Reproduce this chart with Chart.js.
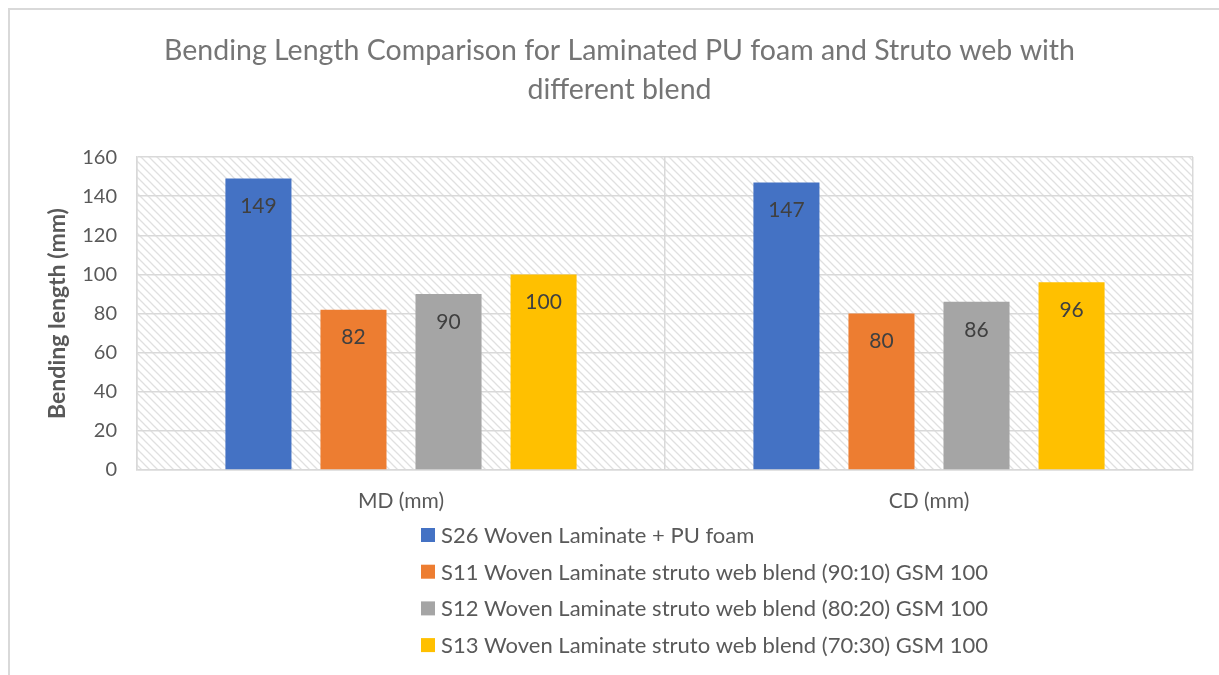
<!DOCTYPE html>
<html>
<head>
<meta charset="utf-8">
<title>Bending Length Comparison</title>
<script src="https://cdn.jsdelivr.net/npm/chart.js@4/dist/chart.umd.min.js"></script>
<style>
  html, body { margin: 0; padding: 0; background: #fff; }
  #wrap { position: relative; width: 1219px; height: 675px; }
</style>
</head>
<body>
<div id="wrap"><canvas id="bendChart" width="1219" height="675"></canvas></div>
<script>
  'use strict';

  const categories = ['MD (mm)', 'CD (mm)'];
  const seriesNames = [
    'S26 Woven Laminate + PU foam',
    'S11 Woven Laminate struto web blend (90:10) GSM 100',
    'S12 Woven Laminate struto web blend (80:20) GSM 100',
    'S13 Woven Laminate struto web blend (70:30) GSM 100'
  ];
  const s26 = [149, 147];
  const s11 = [82, 80];
  const s12 = [90, 86];
  const s13 = [100, 96];
  const yTicks = [0, 20, 40, 60, 80, 100, 120, 140, 160];

  const colors = ['#4472C4', '#ED7D31', '#A5A5A5', '#FFC000'];
  const FONT = 'Lato, "Open Sans", sans-serif';
  const TEXT = '#595959';
  const GRID = '#d9d9d9';

  // diagonal hatch used for the plot background
  function hatchPattern(ctx) {
    const tile = document.createElement('canvas');
    tile.width = 8; tile.height = 8;
    const t = tile.getContext('2d');
    t.strokeStyle = '#e0e0e0';
    t.lineWidth = 1.3;
    t.beginPath();
    t.moveTo(-2, -2); t.lineTo(10, 10);
    t.moveTo(-2, 6); t.lineTo(2, 10);
    t.moveTo(6, -2); t.lineTo(10, 2);
    t.stroke();
    return ctx.createPattern(tile, 'repeat');
  }

  const backdrop = {
    id: 'backdrop',
    beforeDraw(chart) {
      const { ctx, chartArea: a } = chart;
      ctx.save();
      // outer frame (top + left edges)
      ctx.strokeStyle = GRID;
      ctx.lineWidth = 2;
      ctx.beginPath();
      ctx.moveTo(9, chart.height); ctx.lineTo(9, 9); ctx.lineTo(chart.width, 9);
      ctx.stroke();
      ctx.fillStyle = hatchPattern(ctx);
      ctx.fillRect(a.left, a.top, a.right - a.left, a.bottom - a.top);
      ctx.restore();
    }
  };

  // value labels just inside the top of each bar
  const barValues = {
    id: 'barValues',
    afterDatasetsDraw(chart) {
      const { ctx } = chart;
      ctx.save();
      ctx.font = '21px ' + FONT;
      ctx.fillStyle = '#404040';
      ctx.textAlign = 'center';
      ctx.textBaseline = 'middle';
      chart.data.datasets.forEach((ds, i) => {
        chart.getDatasetMeta(i).data.forEach((bar, j) => {
          ctx.fillText(String(ds.data[j]), bar.x, bar.y + 28);
        });
      });
      ctx.restore();
    }
  };

  // stacked legend under the axis, one series per row
  const stackedLegend = {
    id: 'stackedLegend',
    afterDraw(chart) {
      const { ctx } = chart;
      const left = 421, top = 535, step = 36.7;
      ctx.save();
      ctx.font = '22px ' + FONT;
      ctx.textBaseline = 'middle';
      ctx.textAlign = 'left';
      chart.data.datasets.forEach((ds, i) => {
        const y = top + i * step;
        ctx.fillStyle = ds.backgroundColor;
        ctx.fillRect(left, y - 7, 14, 14);
        ctx.fillStyle = TEXT;
        ctx.fillText(ds.label, left + 20, y + 1);
      });
      ctx.restore();
    }
  };

  // the title block ignores the right padding so it sits a little right of the plot centre
  const titleCentre = {
    id: 'titleCentre',
    afterLayout(chart) {
      const t = chart.titleBlock;
      if (t) { t.left = 0; t.right = chart.width + 20; t.width = t.right; }
    }
  };

  const seriesData = [s26, s11, s12, s13];

  new Chart(document.getElementById('bendChart'), {
    type: 'bar',
    data: {
      labels: categories,
      datasets: seriesNames.map((name, i) => ({
        label: name,
        data: seriesData[i],
        backgroundColor: colors[i],
        categoryPercentage: 0.72,
        barPercentage: 0.695
      }))
    },
    options: {
      responsive: false,
      animation: false,
      devicePixelRatio: 1,
      layout: { padding: { top: 0, right: 26, bottom: 155, left: 0 } },
      plugins: {
        legend: { display: false },
        tooltip: { enabled: false },
        title: {
          display: true,
          text: ['Bending Length Comparison for Laminated PU foam and Struto web with', 'different blend'],
          color: '#757575',
          font: { family: FONT, size: 28.5, weight: 'normal', lineHeight: 1.37 },
          padding: { top: 31, bottom: 48 }
        }
      },
      scales: {
        x: {
          grid: { color: GRID, lineWidth: 1.5, drawTicks: false, offset: true },
          border: { color: GRID, width: 1.5 },
          ticks: { color: TEXT, font: { family: FONT, size: 21 }, padding: 19 },
          afterFit(s) { s.height = 50; }
        },
        y: {
          min: 0,
          max: 160,
          afterBuildTicks(s) { s.ticks = yTicks.map(v => ({ value: v })); },
          grid: { color: GRID, lineWidth: 1.5, drawTicks: false },
          border: { color: GRID, width: 1.5 },
          ticks: { color: TEXT, font: { family: FONT, size: 20 }, padding: 20 },
          title: {
            display: true,
            text: 'Bending length (mm)',
            color: TEXT,
            font: { family: FONT, size: 23, weight: 'bold' },
            padding: { top: 44, bottom: 4 }
          },
          afterFit(s) { s.width = 137; }
        }
      }
    },
    plugins: [backdrop, barValues, stackedLegend, titleCentre]
  });
</script>
</body>
</html>
